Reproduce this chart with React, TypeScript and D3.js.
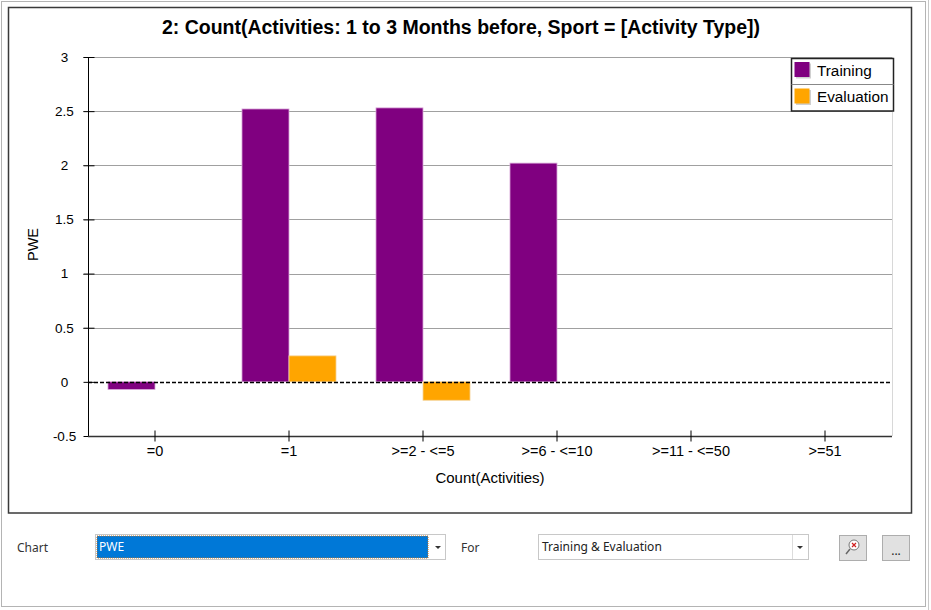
import React, { useEffect, useRef } from "react";
import * as d3 from "d3";

const categories = ["=0", "=1", ">=2 - <=5", ">=6 - <=10", ">=11 - <=50", ">=51"];
const seriesNames = ["Training", "Evaluation"];
const trainingValues = [-0.07, 2.52, 2.53, 2.02, 0, 0];
const evaluationValues = [0, 0.24, -0.17, 0, 0, 0];
const seriesColors = ["#800080", "#FFA500"];
const yTicks = [-0.5, 0, 0.5, 1, 1.5, 2, 2.5, 3];
const chartTitle = "2: Count(Activities: 1 to 3 Months before, Sport = [Activity Type])";
const xTitle = "Count(Activities)";
const yTitle = "PWE";

const W = 931;
const H = 610;
const FONT = "'Liberation Sans', Arial, sans-serif";

export default function App() {
  const ref = useRef<SVGSVGElement>(null);

  useEffect(() => {
    const svg = d3.select(ref.current);
    svg.selectAll("*").remove();

    const left = 88, right = 892, top = 57, bottom = 436;

    // window background and borders
    svg.append("rect").attr("x", 0).attr("y", 0).attr("width", W).attr("height", H).attr("fill", "#ffffff");
    svg.append("rect").attr("x", 1.5).attr("y", 1.5).attr("width", 924).attr("height", 605)
      .attr("fill", "none").attr("stroke", "#b4b4b4").attr("stroke-width", 1);
    svg.append("line").attr("x1", 928.5).attr("x2", 928.5).attr("y1", 0).attr("y2", H)
      .attr("stroke", "#c8c8c8");

    // chart frame
    svg.append("rect").attr("x", 8.5).attr("y", 7.5).attr("width", 903).attr("height", 505.5)
      .attr("fill", "#ffffff").attr("stroke", "#3a3a3a").attr("stroke-width", 1.5);

    const x0 = d3.scaleBand<string>().domain(categories).range([left, right]).paddingInner(0).paddingOuter(0);
    const x1 = d3.scaleBand<string>().domain(seriesNames).range([0, x0.bandwidth()]).paddingInner(0).paddingOuter(0.425);
    const y = d3.scaleLinear().domain([-0.5, 3]).range([bottom, top]);

    // plot area right border
    svg.append("line").attr("x1", right + 0.5).attr("x2", right + 0.5).attr("y1", top).attr("y2", bottom)
      .attr("stroke", "#d8d8d8");

    // gridlines
    svg.append("g").selectAll("line").data(yTicks.filter((t) => t !== 0 && t !== -0.5)).join("line")
      .attr("x1", left - 5).attr("x2", right)
      .attr("y1", (d) => Math.round(y(d)) + 0.5).attr("y2", (d) => Math.round(y(d)) + 0.5)
      .attr("stroke", "#a0a0a0").attr("stroke-width", 1);

    // bars
    const seriesData = [trainingValues, evaluationValues];
    seriesData.forEach((vals, si) => {
      const g = svg.append("g");
      g.selectAll("rect").data(vals.map((v, i) => ({ v, c: categories[i] })).filter((d) => d.v !== 0)).join("rect")
        .attr("x", (d) => (x0(d.c) as number) + (x1(seriesNames[si]) as number))
        .attr("width", x1.bandwidth())
        .attr("y", (d) => y(Math.max(0, d.v)))
        .attr("height", (d) => Math.abs(y(d.v) - y(0)))
        .attr("fill", seriesColors[si])
        .attr("stroke", si === 0 ? "#d9a8d9" : "#f5d49a")
        .attr("stroke-width", 0.8);
    });

    // zero line dashed
    svg.append("line").attr("x1", left).attr("x2", right)
      .attr("y1", Math.round(y(0)) + 0.5).attr("y2", Math.round(y(0)) + 0.5)
      .attr("stroke", "#000").attr("stroke-width", 1.3).attr("stroke-dasharray", "4,2");

    // y-axis
    const yAxis = d3.axisLeft(y).tickValues(yTicks).tickSize(5).tickFormat((d) => String(d));
    const gy = svg.append("g").attr("transform", `translate(${left + 0.5},0)`).call(yAxis);
    gy.select(".domain").attr("stroke", "#000").attr("d", `M0,${top}V${bottom}`);
    gy.selectAll(".tick line").attr("stroke", "#000").attr("x2", -5).attr("x1", 6);
    gy.selectAll(".tick text").attr("x", -24).attr("text-anchor", "middle").attr("fill", "#000")
      .style("font-family", FONT).style("font-size", "13.5px");

    // x-axis
    const xAxis = d3.axisBottom(x0).tickSize(5).tickSizeOuter(0);
    const gx = svg.append("g").attr("transform", `translate(0,${bottom + 0.5})`).call(xAxis);
    gx.select(".domain").attr("stroke", "#333").attr("stroke-width", 1.5).attr("d", `M${left},0H${right}`);
    gx.selectAll(".tick line").attr("stroke", "#000").attr("y1", -6).attr("y2", 5);
    gx.selectAll(".tick text").attr("y", 9).attr("fill", "#000")
      .style("font-family", FONT).style("font-size", "14.5px");

    // titles
    svg.append("text").attr("x", 461).attr("y", 34).attr("text-anchor", "middle")
      .style("font-family", FONT).style("font-size", "19.5px").style("font-weight", "bold")
      .attr("fill", "#000").text(chartTitle);
    svg.append("text").attr("x", 490).attr("y", 483).attr("text-anchor", "middle")
      .style("font-family", FONT).style("font-size", "15px").attr("fill", "#000").text(xTitle);
    svg.append("text").attr("transform", `translate(38,${(top + bottom) / 2 - 2}) rotate(-90)`)
      .attr("text-anchor", "middle")
      .style("font-family", FONT).style("font-size", "14.5px").attr("fill", "#000").text(yTitle);

    // legend
    const lg = svg.append("g");
    lg.append("rect").attr("x", 791.5).attr("y", 58.5).attr("width", 102).attr("height", 52.5)
      .attr("fill", "#fff").attr("stroke", "#222").attr("stroke-width", 1.5);
    lg.append("line").attr("x1", 791.5).attr("x2", 893.5).attr("y1", 84.5).attr("y2", 84.5)
      .attr("stroke", "#888");
    seriesNames.forEach((n, i) => {
      const yy = 62 + i * 26.5;
      lg.append("rect").attr("x", 796).attr("y", yy + 1.5).attr("width", 15).attr("height", 15).attr("fill", "#d0d0d0");
      lg.append("rect").attr("x", 794.5).attr("y", yy).attr("width", 15).attr("height", 15).attr("fill", seriesColors[i]);
      lg.append("text").attr("x", 817).attr("y", yy + 13.5)
        .style("font-family", FONT).style("font-size", "15.3px").attr("fill", "#000").text(n);
    });

    // bottom controls
    const CF = "'Noto Sans', 'DejaVu Sans', sans-serif";
    svg.append("text").attr("x", 17).attr("y", 552).style("font-family", CF).style("font-size", "12px")
      .attr("fill", "#333").text("Chart");
    // dropdown 1
    svg.append("rect").attr("x", 95.5).attr("y", 534.5).attr("width", 350).attr("height", 25)
      .attr("fill", "#fff").attr("stroke", "#c8c8c8");
    svg.append("rect").attr("x", 97).attr("y", 536).attr("width", 331).attr("height", 22)
      .attr("fill", "#0078d7").attr("stroke", "#c07020").attr("stroke-width", 1).attr("stroke-dasharray", "1,1");
    svg.append("text").attr("x", 99).attr("y", 551).style("font-family", CF).style("font-size", "12px")
      .attr("fill", "#fff").text("PWE");
    svg.append("path").attr("d", "M435,546 h6 l-3,3 z").attr("fill", "#333");
    svg.append("text").attr("x", 461).attr("y", 552).style("font-family", CF).style("font-size", "12px")
      .attr("fill", "#333").text("For");
    // dropdown 2
    svg.append("rect").attr("x", 538.5).attr("y", 534.5).attr("width", 270).attr("height", 25)
      .attr("fill", "#fff").attr("stroke", "#c8c8c8");
    svg.append("line").attr("x1", 792.5).attr("x2", 792.5).attr("y1", 535).attr("y2", 559).attr("stroke", "#dcdcdc");
    svg.append("text").attr("x", 542).attr("y", 551).style("font-family", CF).style("font-size", "12px")
      .attr("fill", "#222").text("Training & Evaluation");
    svg.append("path").attr("d", "M797,546 h6 l-3,3 z").attr("fill", "#333");
    // buttons
    svg.append("rect").attr("x", 839.5).attr("y", 535.5).attr("width", 27).attr("height", 25)
      .attr("fill", "#e1e1e1").attr("stroke", "#adadad");
    svg.append("circle").attr("cx", 854).attr("cy", 545).attr("r", 5).attr("fill", "#fff").attr("stroke", "#777");
    svg.append("path").attr("d", "M852,543 l4,4 M856,543 l-4,4").attr("stroke", "#d02020").attr("stroke-width", 1.2);
    svg.append("line").attr("x1", 850).attr("y1", 549).attr("x2", 846).attr("y2", 554).attr("stroke", "#666").attr("stroke-width", 1.5);
    svg.append("rect").attr("x", 882.5).attr("y", 535.5).attr("width", 27).attr("height", 25)
      .attr("fill", "#e1e1e1").attr("stroke", "#adadad");
    svg.append("text").attr("x", 896).attr("y", 555).attr("text-anchor", "middle").style("font-family", CF)
      .style("font-size", "12px").attr("fill", "#222").text("...");
  }, []);

  return (
    <svg ref={ref} width={W} height={H} style={{ position: "absolute", left: 0, top: 0, display: "block" }} />
  );
}
